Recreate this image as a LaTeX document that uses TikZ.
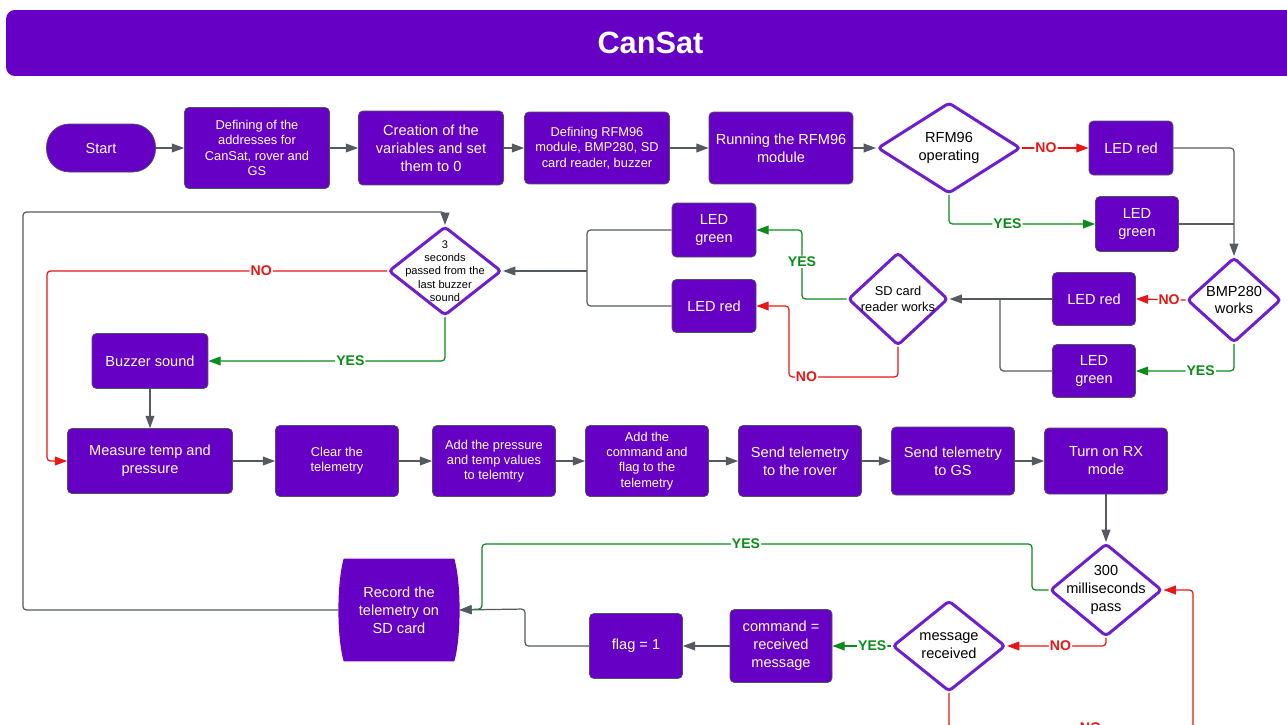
\documentclass[tikz,border=0pt]{standalone}
\usepackage{fontspec}
\setmainfont{Liberation Sans}
\usetikzlibrary{shapes.geometric, arrows.meta, calc, backgrounds}
\definecolor{cansat}{RGB}{102,0,196}
\definecolor{boxedge}{RGB}{80,80,95}
\definecolor{decedge}{RGB}{110,30,205}
\definecolor{linegray}{RGB}{85,90,98}
\definecolor{nored}{RGB}{232,22,22}
\definecolor{yesgreen}{RGB}{10,140,25}
\tikzstyle{titlebar} = [rectangle, rounded corners=5pt, fill=cansat, text=white,
	font=\bfseries\fontsize{17.5}{20}\selectfont]
\tikzstyle{process} = [rectangle, rounded corners=2.5pt, draw=boxedge, line width=0.4pt,
	fill=cansat, text=white, align=center, font=\fontsize{8.3}{10.2}\selectfont]
\tikzstyle{small} = [font=\fontsize{7.3}{8.7}\selectfont]
\tikzstyle{tiny} = [font=\fontsize{6.3}{7.6}\selectfont]
\tikzstyle{startstop} = [process, rounded corners=13pt]
\tikzstyle{decision} = [diamond, draw=decedge, line width=1.7pt, fill=white,
	rounded corners=2pt, inner sep=0pt]
\tikzstyle{dectext} = [align=center, text=black, inner sep=0pt, font=\fontsize{8.3}{10.2}\selectfont]
\tikzstyle{flowline} = [-{Triangle[length=7pt, width=5pt]}, draw=linegray, line width=0.7pt, rounded corners=2pt]
\tikzstyle{joinline} = [draw=linegray, line width=0.7pt, rounded corners=2pt]
\tikzstyle{yesline} = [flowline, draw=yesgreen, color=yesgreen]
\tikzstyle{noline} = [flowline, draw=nored, color=nored]
\tikzstyle{yeslabel} = [fill=white, inner sep=0.6pt, text=yesgreen, font=\bfseries\fontsize{8}{9}\selectfont]
\tikzstyle{nolabel} = [fill=white, inner sep=0.6pt, text=nored, font=\bfseries\fontsize{8}{9}\selectfont]

\begin{document}
\begin{tikzpicture}[x=0.02cm, y=-0.02cm]
	\useasboundingbox (0,0) rectangle (1287,724);

	% title
	\node (title) [titlebar, minimum width=25.78cm, minimum height=1.32cm] at (650.5,43) {CanSat};

	% set up nodes, setup row
	\node (start) [startstop, minimum width=2.18cm, minimum height=0.96cm] at (101,148) {Start};
	\node (addr) [process, small, minimum width=2.9cm, minimum height=1.62cm] at (257,148) {Defining of the\\addresses for\\CanSat, rover and\\GS};
	\node (vars) [process, minimum width=2.9cm, minimum height=1.48cm] at (431,148) {Creation of the\\variables and set\\them to 0};
	\node (modules) [process, small, minimum width=2.9cm, minimum height=1.44cm] at (597,148) {Defining RFM96\\module, BMP280, SD\\card reader, buzzer};
	\node (runrfm) [process, minimum width=2.88cm, minimum height=1.44cm] at (781,148) {Running the RFM96\\module};
	\node (rfmok) [decision, minimum width=2.86cm, minimum height=1.82cm] at (949,148) {};
	\node (rfmoktext) [dectext] at (rfmok) {RFM96\\operating};
	\node (ledrA) [process, minimum width=1.68cm, minimum height=1.08cm] at (1131,148) {LED red};
	\node (ledgA) [process, minimum width=1.66cm, minimum height=1.1cm] at (1137,224) {LED\\green};

	% checks of the sensors
	\node (bmp) [decision, minimum width=1.88cm, minimum height=1.7cm] at (1234,300) {};
	\node (bmptext) [dectext] at (bmp) {BMP280\\works};
	\node (ledrB) [process, minimum width=1.66cm, minimum height=1.06cm] at (1094,299) {LED red};
	\node (ledgB) [process, minimum width=1.66cm, minimum height=1.06cm] at (1094,371) {LED\\green};
	\node (sdok) [decision, minimum width=2.0cm, minimum height=1.86cm] at (898,299) {};
	\node (sdoktext) [dectext, small] at (sdok) {SD card\\reader works};
	\node (ledgC) [process, minimum width=1.68cm, minimum height=1.08cm] at (714,230) {LED\\green};
	\node (ledrC) [process, minimum width=1.68cm, minimum height=1.06cm] at (714,306) {LED red};
	\node (buzzchk) [decision, minimum width=2.26cm, minimum height=1.78cm] at (445,271) {};
	\node (buzzchktext) [dectext, tiny] at (buzzchk) {3\\seconds\\passed from the\\last buzzer\\sound};
	\node (buzz) [process, minimum width=2.32cm, minimum height=1.1cm] at (150,361) {Buzzer sound};

	% main loop row
	\node (measure) [process, minimum width=3.3cm, minimum height=1.3cm] at (150,461) {Measure temp and\\pressure};
	\node (clear) [process, small, minimum width=2.46cm, minimum height=1.42cm] at (337,461) {Clear the\\telemetry};
	\node (addvals) [process, small, minimum width=2.46cm, minimum height=1.42cm] at (494,461) {Add the pressure\\and temp values\\to telemtry};
	\node (addcmd) [process, small, minimum width=2.46cm, minimum height=1.42cm] at (647,461) {Add the\\command and\\flag to the\\telemetry};
	\node (sendrover) [process, minimum width=2.46cm, minimum height=1.42cm] at (800,461) {Send telemetry\\to the rover};
	\node (sendgs) [process, minimum width=2.46cm, minimum height=1.36cm] at (953,461) {Send telemetry\\to GS};
	\node (rxmode) [process, minimum width=2.46cm, minimum height=1.32cm] at (1106,461) {Turn on RX\\mode};

	% receiving
	\node (wait) [decision, minimum width=2.24cm, minimum height=1.86cm] at (1106,590) {};
	\node (waittext) [dectext] at (wait) {300\\milliseconds\\pass};
	\node (msg) [decision, minimum width=2.26cm, minimum height=1.82cm] at (949,646) {};
	\node (msgtext) [dectext] at (msg) {message\\received};
	\node (cmd) [process, minimum width=2.04cm, minimum height=1.46cm] at (781,646) {command =\\received\\message};
	\node (flag) [process, minimum width=1.86cm, minimum height=1.3cm] at (636,646) {flag = 1};
	\node (record) [process, draw=none, fill=none, minimum width=2.4cm, minimum height=2.04cm] at (399,610) {Record the\\telemetry on\\SD card};
	\begin{scope}[on background layer]
		\fill[cansat] ($(record.north west)+(5,0)$) .. controls ($(record.north west)+(-2,25)$) and ($(record.south west)+(-2,-25)$) .. ($(record.south west)+(5,0)$)
			-- ($(record.south east)+(-5,0)$) .. controls ($(record.south east)+(2,-25)$) and ($(record.north east)+(2,25)$) .. ($(record.north east)+(-5,0)$) -- cycle;
	\end{scope}

	% corner points of the connectors
	\coordinate (jbmp) at (1234,224);
	\coordinate (jsd) at (1000,299);
	\coordinate (yessd) at (802,230);
	\coordinate (nosd) at (789,377);
	\coordinate (jled) at (587,271);
	\coordinate (nobuzz) at (47,271);
	\coordinate (loop) at (23,212);
	\coordinate (yeswaitA) at (1032,544);
	\coordinate (yeswaitB) at (482,609);
	\coordinate (jflag) at (525,609);
	\coordinate (nomsg) at (1193,728);

	% set up connectors
	\draw [flowline] (start) -- (addr);
	\draw [flowline] (addr) -- (vars);
	\draw [flowline] (vars) -- (modules);
	\draw [flowline] (modules) -- (runrfm);
	\draw [flowline] (runrfm) -- (rfmok);
	\draw [noline] (rfmok.east) -- node[nolabel, pos=0.36] {NO} (ledrA.west);
	\draw [yesline] (rfmok.south) |- node[yeslabel, pos=0.7] {YES} (ledgA.west);
	\draw [flowline] (ledrA.east) -| (bmp.north);
	\draw [joinline] (ledgA.east) -- (jbmp);
	\draw [noline] (bmp.west) -- node[nolabel, pos=0.33] {NO} (ledrB.east);
	\draw [yesline] (bmp.south) |- node[yeslabel, pos=0.67] {YES} (ledgB.east);
	\draw [flowline] (ledrB.west) -- (sdok.east);
	\draw [joinline] (ledgB.west) -| (jsd);
	\draw [yesline] (sdok.west) -| node[yeslabel, pos=0.77] {YES} (yessd) -- (ledgC.east);
	\draw [noline] (sdok.south) |- node[nolabel, pos=0.92] {NO} (nosd) |- (ledrC.east);
	\draw [joinline] (ledgC.west) -| (jled);
	\draw [joinline] (ledrC.west) -| (jled);
	\draw [flowline] (jled) -- (buzzchk.east);
	\draw [noline] (buzzchk.west) -- node[nolabel, pos=0.37] {NO} (nobuzz) |- (measure.west);
	\draw [yesline] (buzzchk.south) |- node[yeslabel, pos=0.7] {YES} (buzz.east);
	\draw [flowline] (buzz) -- (measure);
	\draw [flowline] (measure) -- (clear);
	\draw [flowline] (clear) -- (addvals);
	\draw [flowline] (addvals) -- (addcmd);
	\draw [flowline] (addcmd) -- (sendrover);
	\draw [flowline] (sendrover) -- (sendgs);
	\draw [flowline] (sendgs) -- (rxmode);
	\draw [flowline] (rxmode) -- (wait);
	\draw [yesline] (wait.west) -| (yeswaitA) -| node[yeslabel, pos=0.26] {YES} (yeswaitB) -- (record.east);
	\draw [noline] (wait.south) |- node[nolabel, pos=0.73] {NO} (msg.east);
	\draw [yesline] (msg.west) -- node[yeslabel, pos=0.32] {YES} (cmd.east);
	\draw [flowline] (cmd) -- (flag);
	\draw [flowline] (flag.west) -| (jflag) -- (record.east);
	\draw [noline] (msg.south) |- node[nolabel, pos=0.79] {NO} (nomsg) |- (wait.east);
	\draw [flowline] (record.west) -| (loop) -| (buzzchk.north);

\end{tikzpicture}
\end{document}
